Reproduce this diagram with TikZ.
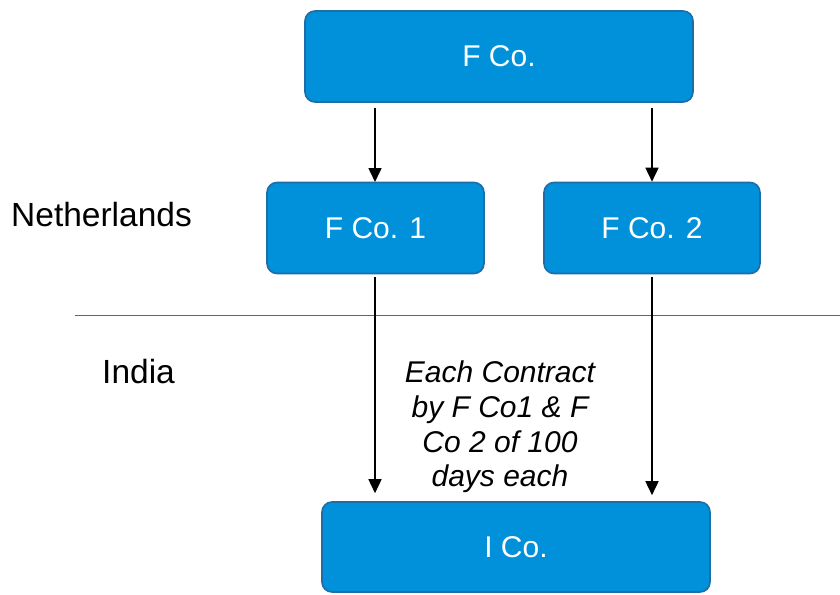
\documentclass[tikz,border=0pt]{standalone}
\usepackage{fontspec}
\setmainfont{Liberation Sans}
\usetikzlibrary{arrows.meta}
\definecolor{kblue}{HTML}{0091DA}
\definecolor{kborder}{HTML}{1F6DA6}
\definecolor{kline}{HTML}{1A78BE}
\tikzset{
  cobox/.style={rectangle, rounded corners=10pt, fill=kblue, draw=kborder, line width=1.6pt,
    text=white, font=\fontsize{30}{34}\selectfont, inner sep=0pt},
  arr/.style={-{Triangle[length=14pt,width=13pt]}, line width=1.6pt, black},
  lbl/.style={font=\fontsize{33.5}{38}\selectfont, inner sep=0pt, text=black},
  note/.style={font=\itshape\fontsize{30}{34.7}\selectfont, align=center, inner sep=0pt, text=black}
}
\begin{document}
\begin{tikzpicture}[x=1pt,y=-1pt]
\useasboundingbox (0,0) rectangle (840,594);
\node[cobox, minimum width=388pt, minimum height=91pt] (top) at (499,56.5) {F Co.};
\node[cobox, minimum width=217pt, minimum height=91pt] (f1) at (375.5,228) {F Co. 1};
\node[cobox, minimum width=216pt, minimum height=91pt] (f2) at (652,228) {F Co. 2};
\node[cobox, minimum width=388pt, minimum height=90pt] (ico) at (516,547) {I Co.};
\coordinate (l1) at (75,315.5);
\coordinate (l2) at (840,315.5);
\draw[kline, line width=1.1pt] (l1) -- (l2);
\node[lbl, anchor=base west] (nl) at (11,226) {Netherlands};
\node[lbl, anchor=base west] (in) at (102,383) {India};
\node[note] (txt) at (500,427) {Each Contract\\by F Co1 \& F\\Co 2 of 100\\days each};
\draw[arr, shorten <=5pt] (top.south -| 375,0) -- (375,182);
\draw[arr, shorten <=5pt] (top.south -| f2) -- (f2.north);
\draw[arr, shorten <=3pt, shorten >=8pt] (f1.south -| 375,0) -- (ico.north -| 375,0);
\draw[arr, shorten <=3pt, shorten >=6pt] (f2.south) -- (ico.north -| f2);
\end{tikzpicture}
\end{document}
